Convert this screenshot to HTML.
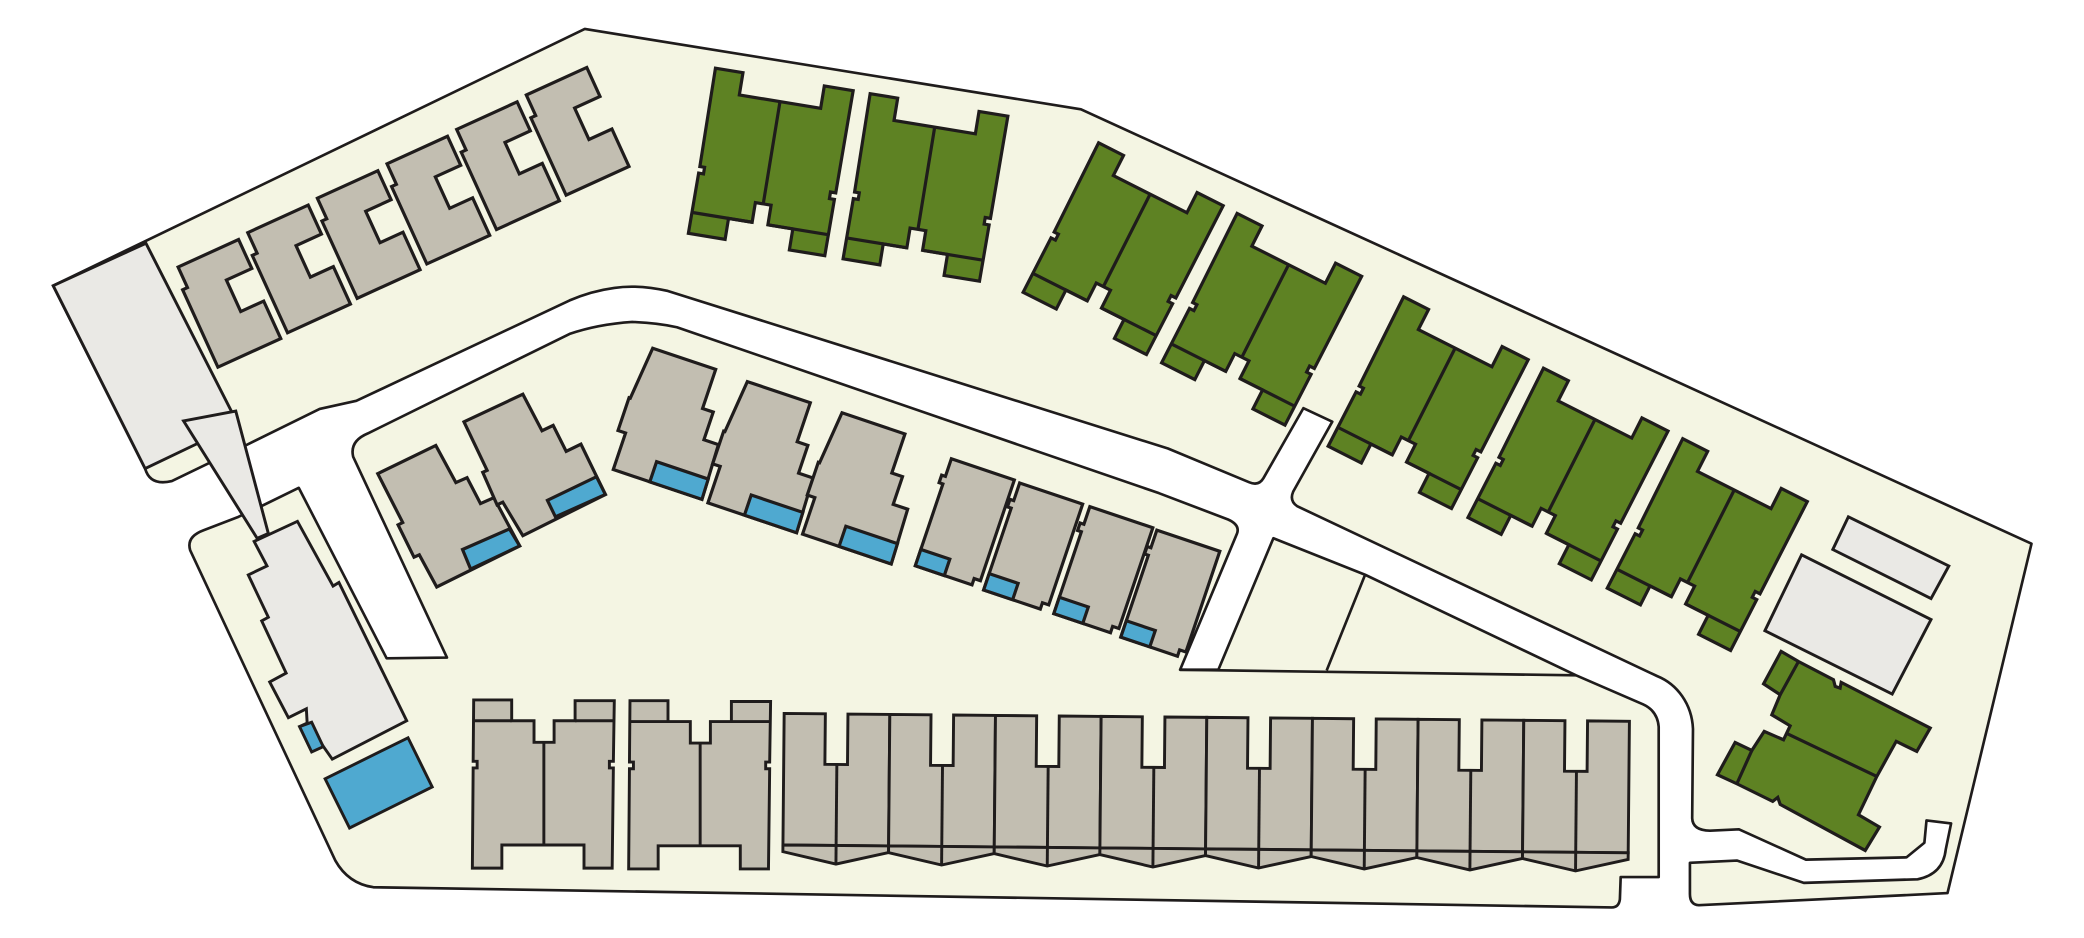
<!DOCTYPE html>
<html><head><meta charset="utf-8"><style>
html,body{margin:0;padding:0;background:#fff;}
svg{display:block;}
</style></head><body>
<svg width="2084" height="938" viewBox="0 0 1568 706" preserveAspectRatio="none" xmlns="http://www.w3.org/2000/svg">
<defs>
<g id="pair">
<path d="M0,0 H21 V17 H83 V0 H105 L104.5,78 H100.5 V83 H104.3 L104,126 H77 V110 H58 V95 H46 V110 H28 V126 H0 L0.3,80 H4 V75 H0.4 Z" fill="#5e8223" stroke="#1f1c1c" stroke-width="2.4" stroke-linejoin="miter"/>
<path d="M0,110 H46 M58,110 H104 M52,17 V95" fill="none" stroke="#1f1c1c" stroke-width="2.4"/>
</g>
<path id="cb" d="M0,0 H50 V24 H29 V50 H48 V81 H-4 V17 H0 Z" fill="#c2beb1" stroke="#1f1c1c" stroke-width="2.4"/>
<g id="big">
<path d="M0,0 H50 V31 H58.5 V53 H70 L71.4,96 H1 V67 H-5 V41 H-4 Z" fill="#c2beb1" stroke="#1f1c1c" stroke-width="2.4"/>
<path d="M30,80 H71 L71.4,96 H30 Z" fill="#4fa9d0" stroke="#1f1c1c" stroke-width="2.4"/>
</g>
<g id="small">
<path d="M0,0 H50 V80 H45 V85 H0 V20 H-3 V14 H0 Z" fill="#c2beb1" stroke="#1f1c1c" stroke-width="2.4"/>
<path d="M0,72 H23 V85 H0 Z" fill="#4fa9d0" stroke="#1f1c1c" stroke-width="2.4"/>
</g>
<g id="tpair">
<path d="M0,0 H31 V38 H48 V0 H79.5 V99 H0 Z" fill="#c2beb1" stroke="#1f1c1c" stroke-width="2.2"/>
<path d="M0,99 V104 L40,113 L79.5,104 V99 Z" fill="#c2beb1" stroke="#1f1c1c" stroke-width="2.2"/>
<path d="M40,38 V113" stroke="#1f1c1c" stroke-width="2.2"/>
</g>
<g id="gpair">
<path d="M356.4,526.8 H385 V542.5 H401.8 V558.7 H416.9 V542.5 H432.7 V527.4 H462.2 L461.5,573 H458.5 V578 H461.5 L460.6,653.4 H439.4 V636 H377.6 V653.4 H355.4 L356,578 H359 V573 H356 Z" fill="#c2beb1" stroke="#1f1c1c" stroke-width="2.2"/>
<path d="M356.4,542.5 H385 M432.7,542.5 H462 M409.2,558.7 V636" stroke="#1f1c1c" stroke-width="2.2" fill="none"/>
</g>
</defs>

<g fill="#f4f5e3" stroke="#1f1c1c" stroke-width="2" stroke-linejoin="round">
<path d="M40,215 L440,21.8 L813.3,82.3 L1528.5,409.2 L1465.3,672.2 L1278.2,681.3 Q1271.5,681 1271.5,672.9 L1271.5,649.4 L1306.8,647.7 L1357.2,664.5 L1442.8,661.8 Q1462,658 1464,639.3 L1468,619.8 L1449.5,617.5 L1447.9,634.3 L1434.4,645.3 L1358.8,647 L1308.4,624.2 L1286.6,625.2 Q1273.5,625 1273.2,615.8 L1273.8,548.6 C1273,530 1262,515 1246.9,508.9 L976,381 Q970,377 973,370 L1002.4,317.4 L980.7,307.2 L950.6,359.9 Q947,366 940,363 L878.8,337.6 L502.5,219 Q480,214 462.2,216.7 Q445,219 428.6,226.1 L268.1,301.7 L240.5,307.8 L186.1,334.6 L129.3,362.1 Q113,366 109.2,352.7 Z"/>
<path d="M276.8,326.2 L428.6,251.3 Q450,244 475.7,242.3 Q495,243 509.3,246.3 L872,371.2 L924,391 Q933,395 930.8,401.4 L887.9,504.1 L916.7,504.1 L958.1,405.1 L1027.1,432.6 L1185.8,508.3 L1236.2,530.1 Q1247,535 1248,547 L1248,660.1 L1219.4,660.1 L1218.8,676.9 Q1218,683 1212.7,683 L280.9,667.8 Q262,665 252.3,647.7 L143.1,414.2 Q140,404 153.2,399.1 L179.4,389 L198.6,380 L224.8,367.2 L290.9,495.5 L336.3,494.9 L265.7,343.7 Q263,332 276.8,326.2 Z"/>
</g>
<path d="M887.9,504.1 L1185.8,508.3 M1027.1,432.6 L998.2,504.6" stroke="#1f1c1c" stroke-width="2" fill="none"/>

<g fill="#eae9e5" stroke="#1f1c1c" stroke-width="2.2">
<path d="M40,215 L109.8,183.1 L177.4,316 L147.8,334.2 L109.2,352.7 Z"/>
<path d="M138.1,316.8 L177.4,309.4 L201.9,401.5 L193.5,405.2 Z"/>
<path d="M191.2,407.5 L223.8,392.4 L250.6,441.1 L255,438.4 L306,542.5 L250,571.4 L242.2,560.3 L234.5,565.4 L225.4,546.9 L231.1,544.2 L230.5,533.5 L217,540.2 L202.9,513.3 L215.3,506.6 L196.9,467.3 L201.9,464.6 L186.8,432.7 L200.9,426 Z"/>
<path d="M1390.7,389 L1466.3,426 L1452.9,450.5 L1379,413.6 Z"/>
<path d="M1355.5,417.6 L1452.9,466.3 L1423.7,522.4 L1327.9,474.7 Z"/>
</g>
<g fill="#4fa9d0" stroke="#1f1c1c" stroke-width="2.2">
<path d="M225.4,546.9 L234.5,543.6 L243.2,562 L234.5,566 Z"/>
<path d="M244.6,586.2 L307,555.3 L325.2,592.3 L263,623.2 Z"/>
</g>

<use href="#cb" transform="translate(134,201) rotate(-24.5)"/>
<use href="#cb" transform="translate(186.4,175.1) rotate(-24.5)"/>
<use href="#cb" transform="translate(238.8,149.2) rotate(-24.5)"/>
<use href="#cb" transform="translate(291.2,123.3) rotate(-24.5)"/>
<use href="#cb" transform="translate(343.6,97.4) rotate(-24.5)"/>
<use href="#cb" transform="translate(396,71.5) rotate(-24.5)"/>

<use href="#pair" transform="translate(538.3,51.3) rotate(9.3)"/>
<use href="#pair" transform="translate(654.7,70.5) rotate(9.3)"/>
<use href="#pair" transform="translate(826.6,107.5) rotate(26.8)"/>
<use href="#pair" transform="translate(930.8,160.6) rotate(26.8)"/>
<use href="#pair" transform="translate(1056.1,223.4) rotate(26.8)"/>
<use href="#pair" transform="translate(1161.3,277.1) rotate(26.8)"/>
<use href="#pair" transform="translate(1266.1,330.2) rotate(26.8)"/>

<path d="M1340.1,490.3 L1353.2,497.9 L1379.5,511.6 L1380.8,516.6 L1384.5,517.9 L1385.3,513.6 L1452.3,548 L1442.2,565.6 L1426.7,558 L1412.1,584.4 L1398.3,613.2 L1414.1,622.5 L1403.4,640.1 L1339.4,605.4 L1337.6,600.2 L1333.8,603.2 L1306.8,589.9 L1292.2,583.1 L1305.5,558.8 L1318.1,564.8 L1327.4,550.5 L1341.9,556.8 L1346.9,546.3 L1333.1,538 L1339.4,522.9 L1326.9,514.7 Z" fill="#5e8223" stroke="#1f1c1c" stroke-width="2.4"/>
<path d="M1353.2,497.9 L1339.4,522.9 M1344.9,552.3 L1412.1,584.4 M1318.1,564.8 L1306.8,589.9" stroke="#1f1c1c" stroke-width="2.4" fill="none"/>

<g stroke="#1f1c1c" stroke-width="2.4">
<path d="M284.2,356.5 L327.9,335.3 L343,363.2 L351.4,359.5 L361.5,379 L371.6,374.6 L391,410.9 L328.6,441.8 L315.5,417.6 L311.5,419.4 L299.5,395 L303,393.3 Z" fill="#c2beb1"/>
<path d="M348,413.6 L383.3,398.1 L391,410.9 L354.1,428.3 Z" fill="#4fa9d0"/>
<path d="M349.1,317.5 L393.4,296.7 L407.8,324.2 L416.2,320.2 L426,339.7 L437.1,334.3 L455.5,372.2 L393.4,403.2 L378.3,378 L374,380 L363.2,355.5 L366.5,354 Z" fill="#c2beb1"/>
<path d="M411.9,376.6 L448.8,358.8 L455.5,372.2 L417.9,389 Z" fill="#4fa9d0"/>
</g>
<use href="#big" transform="translate(491.1,262.1) rotate(18.6)"/>
<use href="#big" transform="translate(562.3,287.2) rotate(18.6)"/>
<use href="#big" transform="translate(633.5,310.7) rotate(18.6)"/>
<use href="#small" transform="translate(715.8,345.3) rotate(18.6)"/>
<use href="#small" transform="translate(767.2,363.5) rotate(18.6)"/>
<use href="#small" transform="translate(820,381.3) rotate(18.6)"/>
<use href="#small" transform="translate(870.4,399) rotate(18.6)"/>

<use href="#gpair"/>
<use href="#gpair" transform="translate(117.6,0.6)"/>
<g transform="translate(590,537) rotate(0.53)">
<use href="#tpair" x="0"/>
<use href="#tpair" x="79.5"/>
<use href="#tpair" x="159"/>
<use href="#tpair" x="238.5"/>
<use href="#tpair" x="318"/>
<use href="#tpair" x="397.5"/>
<use href="#tpair" x="477"/>
<use href="#tpair" x="556.5"/>
</g>
</svg>
</body></html>
